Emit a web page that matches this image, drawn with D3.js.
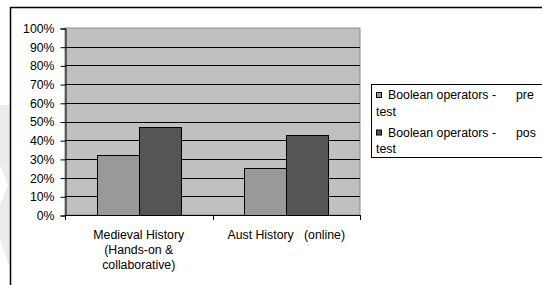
<!DOCTYPE html>
<html>
<head>
<meta charset="utf-8">
<script src="https://cdn.jsdelivr.net/npm/d3@7"></script>
<style>
  body { margin: 0; background: #fff; }
  svg { display: block; font-family: "Liberation Sans", Arial, sans-serif; }
</style>
</head>
<body>
<script>
// data
const categories = ["Medieval History (Hands-on & collaborative)", "Aust History (online)"];
const categoryLines = [["Medieval History", "(Hands-on &", "collaborative)"], ["Aust History   (online)"]];
const seriesNames = ["Boolean operators -      pre test", "Boolean operators -      post test"];
const legendLines = [["Boolean operators -", "pre", "test"], ["Boolean operators -", "pos", "test"]];
const preTest = [0.32, 0.25];
const postTest = [0.47, 0.43];
const yTicks = [0, 0.1, 0.2, 0.3, 0.4, 0.5, 0.6, 0.7, 0.8, 0.9, 1.0];
const colors = ["#999999", "#555555"];

const W = 542, H = 285;
const plot = { left: 65, right: 360, top: 28, bottom: 215 };
const fs = 12.3;

const svg = d3.select("body").append("svg")
  .attr("width", W)
  .attr("height", H);

// faint watermark on the left
svg.append("path")
  .attr("d", "M0,105 L10,105 L10,268 L0,240 L0,205 L8,185 L0,165 Z")
  .attr("fill", "#ececec");

// outer chart border (runs off the picture right and bottom)
svg.append("path")
  .attr("d", "M10.5,290 L10.5,7.5 L560,7.5")
  .attr("fill", "none")
  .attr("stroke", "#000")
  .attr("stroke-width", 1.5);

const y = d3.scaleLinear().domain([0, 1]).range([plot.bottom, plot.top]);
const x0 = d3.scaleBand().domain(categories).range([plot.left, plot.right]);
const x1 = d3.scaleBand().domain(seriesNames)
  .range([0, x0.bandwidth()]).paddingInner(0).paddingOuter(0.756);

// plot area
svg.append("rect")
  .attr("x", plot.left).attr("y", plot.top)
  .attr("width", plot.right - plot.left).attr("height", plot.bottom - plot.top)
  .attr("fill", "#c0c0c0")
  .attr("stroke", "#8a8a8a");

// gridlines
svg.append("g").selectAll("line")
  .data(yTicks.filter(d => d > 0 && d < 1))
  .join("line")
  .attr("x1", plot.left).attr("x2", plot.right)
  .attr("y1", d => Math.round(y(d)) + 0.5).attr("y2", d => Math.round(y(d)) + 0.5)
  .attr("stroke", "#000");

// bars
const series = [preTest, postTest];
const g = svg.append("g");
series.forEach((vals, si) => {
  g.selectAll(".s" + si)
    .data(vals)
    .join("rect")
    .attr("x", (d, i) => Math.round(x0(categories[i]) + x1(seriesNames[si])) + 0.5)
    .attr("y", d => Math.round(y(d)) + 0.5)
    .attr("width", x1.bandwidth())
    .attr("height", d => plot.bottom - Math.round(y(d)))
    .attr("fill", colors[si])
    .attr("stroke", "#000");
});

// y axis
const yAxis = svg.append("g")
  .attr("transform", `translate(${plot.left + 0.5},0.5)`)
  .call(d3.axisLeft(y).tickValues(yTicks).tickFormat(d3.format(".0%")).tickSize(5).tickPadding(6));
yAxis.select(".domain").attr("stroke", "#000");
yAxis.selectAll("text").attr("font-size", fs).attr("fill", "#000").attr("font-family", "Liberation Sans, Arial, sans-serif");

// x axis
svg.append("line")
  .attr("x1", plot.left).attr("x2", plot.right)
  .attr("y1", plot.bottom + 0.5).attr("y2", plot.bottom + 0.5)
  .attr("stroke", "#000");
svg.append("g").selectAll("line")
  .data([plot.left, x0(categories[1]), plot.right])
  .join("line")
  .attr("x1", d => Math.round(d) + 0.5).attr("x2", d => Math.round(d) + 0.5)
  .attr("y1", plot.bottom).attr("y2", plot.bottom + 5)
  .attr("stroke", "#000");

// category labels
categories.forEach((c, i) => {
  const cx = x0(c) + x0.bandwidth() / 2;
  svg.append("text")
    .attr("x", cx)
    .attr("y", 239)
    .attr("text-anchor", "middle")
    .attr("font-size", fs)
    .selectAll("tspan")
    .data(categoryLines[i])
    .join("tspan")
    .attr("x", cx)
    .attr("dy", (d, j) => j === 0 ? 0 : 15)
    .style("white-space", "pre")
    .text(d => d);
});

// legend
svg.append("rect")
  .attr("x", 371.5).attr("y", 84.5)
  .attr("width", 200).attr("height", 73)
  .attr("fill", "#fff")
  .attr("stroke", "#000");

legendLines.forEach((lines, i) => {
  const top = 99 + i * 37.5;
  svg.append("rect")
    .attr("x", 376.5).attr("y", top - 6.5)
    .attr("width", 5).attr("height", 5)
    .attr("fill", colors[i])
    .attr("stroke", "#000");
  svg.append("text").attr("x", 388).attr("y", top).attr("font-size", fs).text(lines[0]);
  svg.append("text").attr("x", 516).attr("y", top).attr("font-size", fs).text(lines[1]);
  svg.append("text").attr("x", 376).attr("y", top + 16.5).attr("font-size", fs).text(lines[2]);
});
</script>
</body>
</html>
